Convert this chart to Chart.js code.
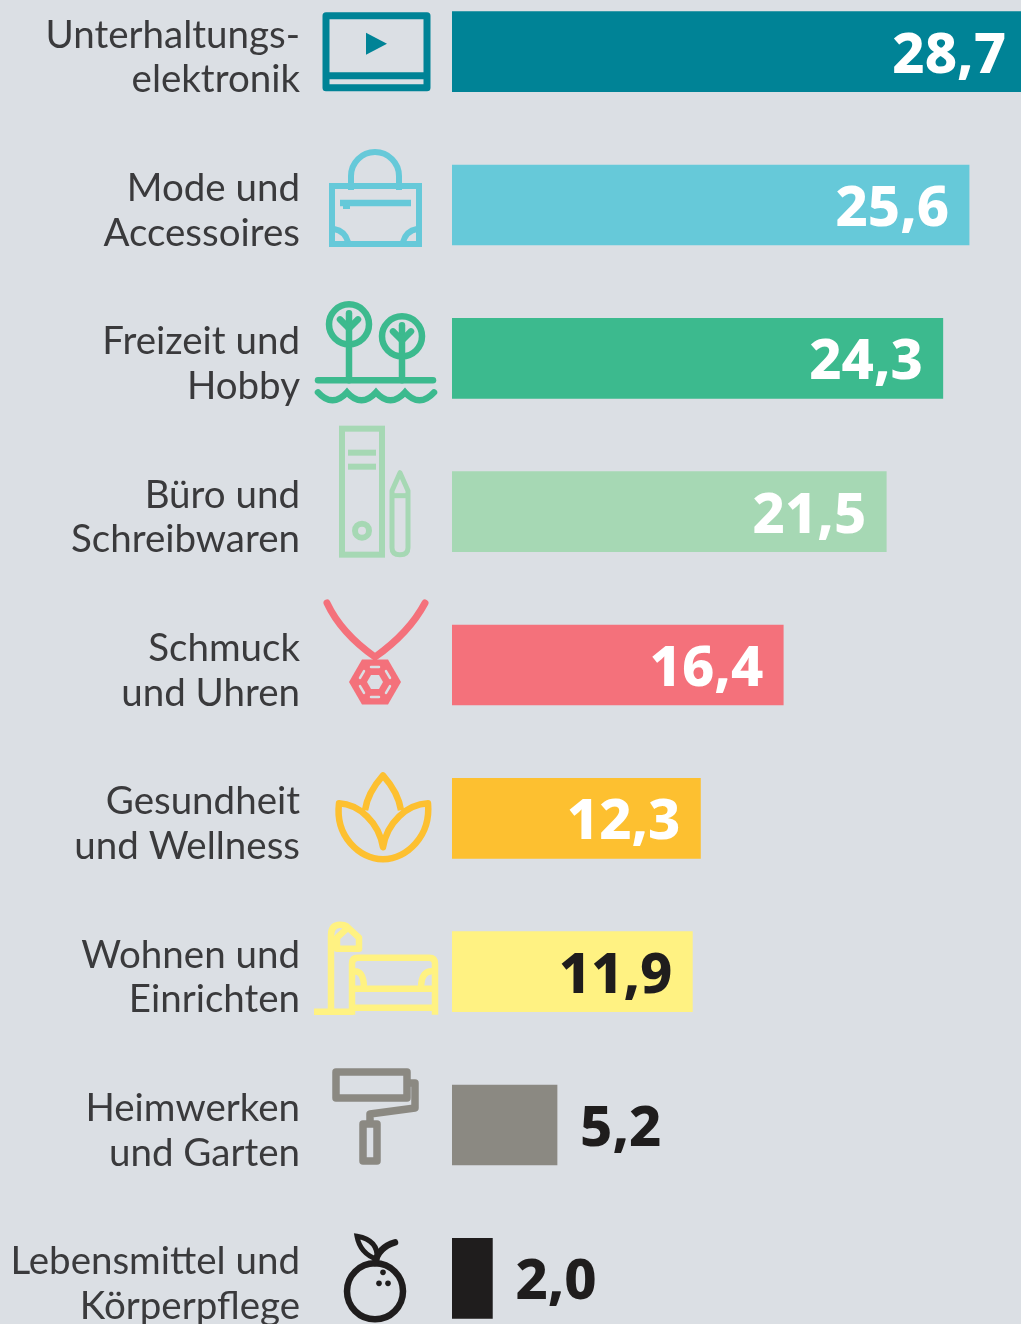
<!DOCTYPE html>
<html lang="de">
<head>
<meta charset="utf-8">
<title>Online-Handel</title>
<script src="https://cdn.jsdelivr.net/npm/chart.js@4"></script>
<style>
  html, body { margin: 0; padding: 0; background: #dbdfe4; overflow: hidden; height: 1324px; }
  /* plot is taller than the window: top and bottom rows are cut like in the original */
  #wrap { position: absolute; left: 0; top: -25px; width: 1021px; height: 1380px; }
</style>
</head>
<body>
<div id="wrap"><canvas id="chart"></canvas></div>
<script>
const categories = [
    ['Unterhaltungs-', 'elektronik'],
    ['Mode und', 'Accessoires'],
    ['Freizeit und', 'Hobby'],
    ['Büro und', 'Schreibwaren'],
    ['Schmuck', 'und Uhren'],
    ['Gesundheit', 'und Wellness'],
    ['Wohnen und', 'Einrichten'],
    ['Heimwerken', 'und Garten'],
    ['Lebensmittel und', 'Körperpflege']
];
const values = [28.7, 25.6, 24.3, 21.5, 16.4, 12.3, 11.9, 5.2, 2.0];
const colors = ['#008396', '#66c9d9', '#3cba8e', '#a6d8b4', '#f4717b', '#fdc030', '#fff282', '#8b8982', '#1f1d1d'];
const labelColors = ['#ffffff', '#ffffff', '#ffffff', '#ffffff', '#ffffff', '#ffffff', '#1f1d1d', '#1f1d1d', '#1f1d1d'];
const bgColor = '#dbdfe4';
// the first bar runs off the right edge of the picture
const axisMax = 28.17;

function line(ctx, pts) {
    ctx.beginPath();
    pts.forEach((p, i) => i ? ctx.lineTo(p[0], p[1]) : ctx.moveTo(p[0], p[1]));
    ctx.stroke();
}

function circle(ctx, x, y, r) {
    ctx.beginPath();
    ctx.arc(x, y, r, 0, Math.PI * 2);
    ctx.stroke();
}

function tree(ctx, x, y) {
    circle(ctx, x, y, 20);
    line(ctx, [[x, y + 20], [x, 22]]);
    line(ctx, [[x, y - 11], [x, y + 20]]);
    line(ctx, [[x - 9, y - 5], [x, y + 4], [x + 9, y - 5]]);
}

// icons are drawn around (0, 0) = middle of the icon column on the bar's centre line
const icons = [
    function tv(ctx) {
        ctx.lineWidth = 7;
        ctx.lineJoin = 'round';
        ctx.strokeRect(-49, -36, 101, 72);
        line(ctx, [[-49, 24], [52, 24]]);
        ctx.beginPath();
        ctx.moveTo(-9, -19);
        ctx.lineTo(12, -8);
        ctx.lineTo(-9, 3);
        ctx.closePath();
        ctx.fill();
    },
    function bag(ctx) {
        ctx.lineWidth = 6;
        ctx.strokeRect(-43, -19, 87, 58);
        ctx.beginPath();
        ctx.moveTo(-24, -15);
        ctx.lineTo(-24, -29);
        ctx.arc(0, -29, 24, Math.PI, 0);
        ctx.lineTo(24, -15);
        ctx.stroke();
        ctx.lineWidth = 6.5;
        line(ctx, [[-35, -2], [36, -2]]);
        ctx.lineWidth = 4;
        line(ctx, [[-32, 2], [-25, 2]]);
        ctx.lineWidth = 6;
        ctx.beginPath();
        ctx.moveTo(-41, 24);
        ctx.quadraticCurveTo(-30, 26, -27, 37);
        ctx.moveTo(42, 24);
        ctx.quadraticCurveTo(31, 26, 28, 37);
        ctx.stroke();
    },
    function park(ctx) {
        ctx.lineWidth = 6.5;
        ctx.lineCap = 'round';
        tree(ctx, -26, -34);
        tree(ctx, 27, -22);
        line(ctx, [[-57, 22], [58, 22]]);
        ctx.beginPath();
        ctx.moveTo(-57, 34);
        for (let i = 0; i < 4; i++) {
            ctx.quadraticCurveTo(-42.5 + i * 29, 50, -28 + i * 29, 34);
        }
        ctx.stroke();
    },
    function binder(ctx) {
        ctx.lineWidth = 6;
        ctx.strokeRect(-33, -83, 40, 126);
        line(ctx, [[-27, -59], [1, -59]]);
        line(ctx, [[-27, -45], [1, -45]]);
        circle(ctx, -13, 19, 7);
        ctx.lineWidth = 5;
        ctx.lineJoin = 'round';
        ctx.beginPath();
        ctx.moveTo(25, -39);
        ctx.lineTo(33, -21);
        ctx.lineTo(33, 36);
        ctx.quadraticCurveTo(33, 43, 25, 43);
        ctx.quadraticCurveTo(17, 43, 17, 36);
        ctx.lineTo(17, -21);
        ctx.closePath();
        ctx.stroke();
        line(ctx, [[17, -16], [33, -16]]);
    },
    function necklace(ctx) {
        ctx.lineWidth = 7;
        ctx.lineCap = 'round';
        ctx.beginPath();
        ctx.moveTo(-48, -62);
        ctx.quadraticCurveTo(-34, -32, 0, -8);
        ctx.quadraticCurveTo(34, -32, 50, -62);
        ctx.stroke();
        const hex = (r) => {
            ctx.beginPath();
            for (let i = 0; i < 6; i++) {
                const a = i * Math.PI / 3;
                ctx.lineTo(Math.cos(a) * r, 17 + Math.sin(a) * r);
            }
            ctx.closePath();
            ctx.fill();
        };
        hex(26);
        ctx.fillStyle = bgColor;
        ctx.strokeStyle = bgColor;
        hex(8);
        ctx.lineWidth = 2.5;
        for (let i = 0; i < 6; i++) {
            const a = Math.PI / 6 + i * Math.PI / 3;
            const mx = Math.cos(a) * 15, my = 17 + Math.sin(a) * 15;
            const dx = -Math.sin(a) * 4, dy = Math.cos(a) * 4;
            line(ctx, [[mx - dx, my - dy], [mx + dx, my + dy]]);
        }
    },
    function lotus(ctx) {
        ctx.lineWidth = 6.5;
        ctx.lineJoin = 'round';
        ctx.beginPath();
        ctx.moveTo(-36, -15);
        ctx.bezierCurveTo(-40, 18, -16, 40, 8, 41);
        ctx.bezierCurveTo(32, 40, 56, 18, 53, -15);
        ctx.bezierCurveTo(32, -14, 12, 4, 8, 29);
        ctx.bezierCurveTo(4, 4, -16, -14, -36, -15);
        ctx.closePath();
        ctx.moveTo(-10, -8);
        ctx.bezierCurveTo(-8, -22, 0, -34, 8, -43);
        ctx.bezierCurveTo(16, -34, 24, -22, 26, -8);
        ctx.stroke();
    },
    function sofa(ctx) {
        ctx.lineWidth = 6.5;
        ctx.lineJoin = 'round';
        line(ctx, [[-61, 40], [-22, 40]]);
        ctx.beginPath();
        ctx.moveTo(-44, 40);
        ctx.lineTo(-44, -36);
        ctx.quadraticCurveTo(-44, -47, -35, -47);
        ctx.quadraticCurveTo(-27, -47, -27, -42);
        ctx.stroke();
        ctx.beginPath();
        ctx.moveTo(-27, -44);
        ctx.lineTo(-16, -34);
        ctx.lineTo(-16, -23);
        ctx.lineTo(-38, -23);
        ctx.lineTo(-38, -34);
        ctx.closePath();
        ctx.stroke();
        ctx.beginPath();
        ctx.moveTo(-23, 43);
        ctx.lineTo(-23, -8);
        ctx.quadraticCurveTo(-23, -14, -17, -14);
        ctx.lineTo(54, -14);
        ctx.quadraticCurveTo(60, -14, 60, -8);
        ctx.lineTo(60, 43);
        ctx.moveTo(-23, 17);
        ctx.lineTo(60, 17);
        ctx.moveTo(-23, 36);
        ctx.lineTo(60, 36);
        ctx.moveTo(-23, 0);
        ctx.quadraticCurveTo(-11, -3, -11, 17);
        ctx.moveTo(60, 0);
        ctx.quadraticCurveTo(46, -3, 46, 17);
        ctx.stroke();
    },
    function roller(ctx) {
        ctx.lineWidth = 7.5;
        ctx.lineJoin = 'round';
        ctx.strokeRect(-39, -53, 71, 26);
        line(ctx, [[32, -42], [40, -42], [40, -17], [-5, -11], [-5, -2]]);
        ctx.strokeRect(-12, -1, 14, 37);
    },
    function fruit(ctx) {
        ctx.lineWidth = 6.5;
        ctx.lineCap = 'round';
        circle(ctx, 0, 13, 28);
        ctx.beginPath();
        ctx.moveTo(0, -15);
        ctx.quadraticCurveTo(3, -31, 20, -36);
        ctx.stroke();
        ctx.lineWidth = 5;
        ctx.beginPath();
        ctx.moveTo(-18, -42);
        ctx.quadraticCurveTo(4, -38, 2, -19);
        ctx.quadraticCurveTo(-15, -25, -18, -42);
        ctx.closePath();
        ctx.stroke();
        [[8, -6], [4, 5], [13, 5]].forEach(d => {
            ctx.beginPath();
            ctx.arc(d[0], d[1], 2.8, 0, Math.PI * 2);
            ctx.fill();
        });
    }
];

const iconsPlugin = {
    id: 'icons',
    afterDatasetsDraw(chart) {
        const ctx = chart.ctx;
        const y = chart.scales.y;
        icons.forEach((draw, i) => {
            ctx.save();
            ctx.translate(375, y.getPixelForValue(i));
            ctx.strokeStyle = colors[i];
            ctx.fillStyle = colors[i];
            draw(ctx);
            ctx.restore();
        });
    }
};

const valuesPlugin = {
    id: 'valueLabels',
    afterDatasetsDraw(chart) {
        const ctx = chart.ctx;
        const { x, y } = chart.scales;
        ctx.save();
        ctx.font = '800 56px "Noto Sans"';
        ctx.textBaseline = 'middle';
        values.forEach((v, i) => {
            const end = x.getPixelForValue(v);
            const label = v.toFixed(1).replace('.', ',');
            const mid = y.getPixelForValue(i) + 5;
            ctx.fillStyle = labelColors[i];
            if (v < 10) {
                ctx.textAlign = 'left';
                ctx.fillText(label, end + 23, mid);
            } else {
                ctx.textAlign = 'right';
                const right = end > chart.chartArea.right ? chart.chartArea.right - 15 : end - 20;
                ctx.fillText(label, right, mid);
            }
        });
        ctx.restore();
    }
};

new Chart(document.getElementById('chart'), {
    type: 'bar',
    data: {
        labels: categories,
        datasets: [{
            data: values,
            backgroundColor: colors,
            borderWidth: 0,
            barThickness: 80
        }]
    },
    plugins: [iconsPlugin, valuesPlugin],
    options: {
        indexAxis: 'y',
        responsive: true,
        maintainAspectRatio: false,
        animation: false,
        layout: { padding: 0 },
        plugins: {
            legend: { display: false },
            tooltip: { enabled: false },
            title: { display: false }
        },
        scales: {
            x: { display: false, min: 0, max: axisMax },
            y: {
                afterFit(scale) {
                    scale.width = 452;
                    // ticks.padding also gets added above and below the axis otherwise
                    scale.paddingTop = 0;
                    scale.paddingBottom = 0;
                },
                grid: { display: false, drawTicks: false },
                border: { display: false },
                ticks: {
                    autoSkip: false,
                    padding: 152,
                    labelOffset: 6,
                    color: '#3a3a3c',
                    font: { family: 'Lato', size: 38.5, lineHeight: 1.158 }
                }
            }
        }
    }
});
</script>
</body>
</html>
